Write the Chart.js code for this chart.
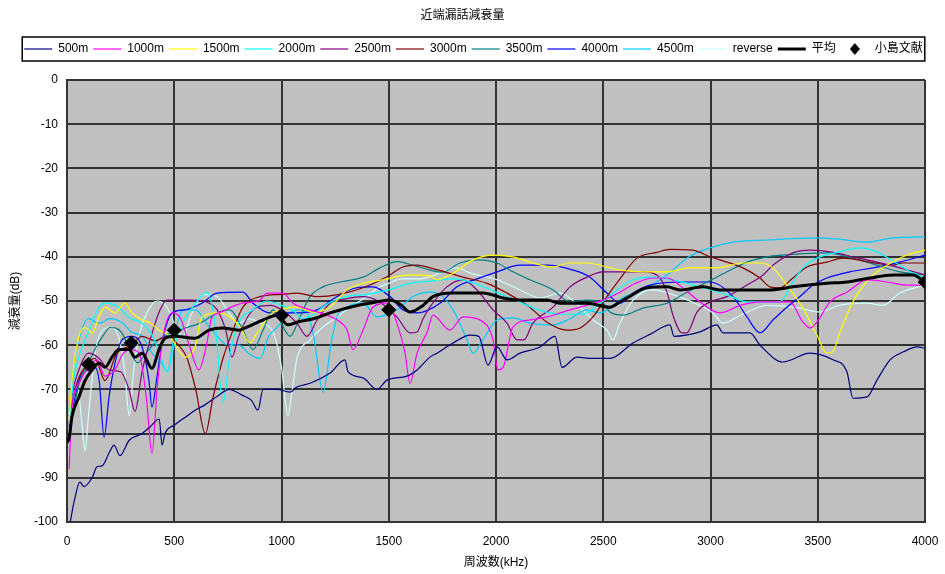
<!DOCTYPE html>
<html>
<head>
<meta charset="utf-8">
<script src="https://cdn.jsdelivr.net/npm/chart.js@4"></script>
<style>
  body { margin: 0; background: #fff; }
  #wrap { width: 945px; height: 574px; }
</style>
</head>
<body>
<div id="wrap"><canvas id="nextChart"></canvas></div>
<script>
// 近端漏話減衰量: [周波数 kHz, 減衰量 dB]
const s500 = [[15,-100],[35,-95],[60,-91],[79,-92],[117,-90],[140,-87.5],[163,-87.3],[200,-84],[219,-82.6],[247,-85],[290,-81.5],[350,-80],[387,-78.5],[430,-76.7],[443,-82.6],[457,-80],[503,-78],[560,-76],[597,-74.7],[643,-73.5],[708,-71.3],[755,-70],[816,-71.3],[860,-72.5],[890,-74.7],[914,-70],[979,-70],[1040,-70.6],[1070,-69.5],[1133,-68.6],[1226,-66.3],[1296,-63.3],[1310,-66],[1380,-67.4],[1445,-70],[1492,-67.9],[1585,-67],[1632,-65.6],[1692,-62.7],[1725,-61.8],[1800,-59.5],[1879,-57.7],[1920,-58],[1963,-64.5],[2005,-60.4],[2051,-63.3],[2112,-61.8],[2205,-60.4],[2275,-58],[2308,-65],[2377,-62.7],[2450,-63],[2531,-63],[2639,-59.5],[2720,-57.5],[2811,-55.4],[2830,-58],[2951,-57],[3030,-55.4],[3058,-57.2],[3184,-57.2],[3231,-60],[3338,-63.8],[3464,-61.8],[3571,-63.3],[3636,-66],[3664,-72],[3730,-71.7],[3776,-67.9],[3837,-63.3],[3900,-61.5],[3963,-60.4],[4000,-60.7]];
const s1000 = [[10,-88],[23,-74.7],[56,-68.6],[100,-65],[140,-63.3],[177,-67],[223,-65.6],[260,-62],[300,-61],[336,-61.8],[370,-72],[396,-84.4],[420,-70],[443,-59.5],[490,-52.7],[530,-54],[570,-60],[615,-65.6],[650,-60],[676,-53.6],[708,-52.7],[760,-51.5],[820,-50.5],[900,-49.8],[932,-48.2],[1007,-48.2],[1054,-50.5],[1100,-51.5],[1200,-53],[1260,-54.3],[1306,-56.6],[1333,-61],[1380,-56.6],[1426,-51.4],[1492,-50.5],[1538,-55],[1576,-61.8],[1599,-68.6],[1632,-61.8],[1678,-57.2],[1706,-53.2],[1785,-56.6],[1846,-53.6],[1925,-54.3],[1986,-58.8],[2009,-65.6],[2033,-65],[2079,-55.9],[2158,-54.3],[2238,-53.6],[2312,-52.5],[2392,-51.4],[2498,-49.8],[2578,-48],[2650,-46],[2732,-44.8],[2797,-44.8],[2870,-47],[2951,-50.2],[3044,-52.7],[3138,-51],[3231,-50.2],[3370,-50.2],[3431,-54.8],[3464,-56.1],[3496,-54.8],[3557,-50.2],[3636,-48],[3730,-45.2],[3823,-45.7],[3916,-46.4],[4000,-46.4]];
const s1500 = [[10,-77],[23,-68],[56,-58],[84,-56],[117,-57.2],[149,-53.6],[177,-51.4],[224,-52.7],[270,-50.5],[303,-52.7],[350,-54.3],[390,-55],[429,-56.6],[480,-58],[550,-62.7],[597,-60.4],[629,-53.6],[708,-52.7],[760,-53.6],[807,-55.9],[853,-59.5],[886,-57.2],[950,-53],[1026,-51.6],[1072,-51.4],[1147,-52.5],[1226,-51.4],[1305,-47.5],[1380,-46],[1473,-45.2],[1599,-44.1],[1692,-44.3],[1725,-45.2],[1800,-43.7],[1893,-40.7],[1986,-39.6],[2079,-40],[2172,-41.4],[2266,-42.3],[2345,-41.4],[2424,-41.4],[2517,-42.3],[2578,-43],[2685,-43.4],[2797,-43.4],[2904,-42.5],[3030,-42.5],[3151,-41.4],[3231,-41.4],[3291,-42.5],[3356,-46.4],[3431,-51.6],[3496,-57.7],[3543,-61.8],[3570,-61.5],[3604,-57],[3664,-50.2],[3743,-44.8],[3823,-41.9],[3916,-39.6],[4000,-38.5]];
const s2000 = [[10,-78],[30,-68],[60,-62],[100,-57],[150,-51.4],[180,-50.5],[240,-51.4],[290,-53.8],[350,-55],[400,-58],[440,-63],[467,-66],[500,-60],[550,-54],[600,-50.5],[652,-48],[690,-55],[727,-73],[760,-62],[800,-55],[867,-52],[930,-50],[1000,-51],[1050,-52],[1100,-54],[1150,-53],[1200,-51],[1300,-49],[1400,-48.5],[1500,-47.5],[1600,-46],[1700,-45.5],[1800,-45],[1900,-46],[2000,-48],[2100,-50],[2200,-52],[2300,-53],[2400,-53],[2500,-50],[2578,-47],[2639,-45.2],[2732,-44.6],[2850,-45.5],[2951,-46.8],[3077,-48.6],[3170,-50.2],[3277,-50.2],[3324,-50.2],[3380,-46],[3431,-42.5],[3496,-40.3],[3590,-39],[3697,-38],[3780,-39],[3851,-41],[3944,-43.7],[4000,-44.8]];
const s2500 = [[10,-78],[23,-71.7],[60,-65],[100,-61.8],[150,-63],[196,-65.6],[250,-66],[289,-70],[317,-75],[350,-66],[401,-56.6],[434,-52],[466,-49.8],[494,-49.8],[587,-49.8],[650,-50.2],[700,-52],[740,-56.6],[769,-62.7],[800,-58],[850,-53],[886,-51.4],[950,-51],[1000,-52],[1072,-55],[1119,-58],[1166,-54.3],[1226,-50.5],[1300,-49.5],[1380,-49],[1450,-50],[1538,-53.6],[1599,-57.2],[1632,-57],[1660,-54],[1692,-51.4],[1771,-46.8],[1846,-45.2],[1911,-47.5],[1986,-52],[2051,-55],[2098,-58.8],[2130,-58.8],[2172,-55],[2266,-51.4],[2345,-46.8],[2424,-44.6],[2498,-43.4],[2578,-43.4],[2685,-43.4],[2750,-44.1],[2797,-48],[2825,-53.2],[2867,-57.2],[2890,-57.2],[2937,-52.5],[2998,-50.2],[3077,-49],[3170,-46.4],[3245,-44.1],[3291,-41.9],[3384,-39.1],[3464,-38.5],[3571,-39],[3664,-40],[3776,-41.2],[3883,-42.5],[4000,-44.1]];
const s3000 = [[10,-76],[50,-68],[100,-64],[130,-63],[177,-68],[230,-62],[300,-60],[350,-58],[410,-59],[470,-58],[520,-60],[560,-63],[600,-70],[645,-80],[680,-72],[727,-63],[774,-56.6],[820,-51.4],[900,-49],[1000,-48.5],[1072,-48.2],[1166,-49],[1270,-48.5],[1380,-47],[1492,-44.5],[1566,-42.3],[1632,-41.9],[1692,-42.5],[1760,-43.4],[1846,-44.6],[1958,-46],[2051,-48.2],[2158,-51.4],[2238,-54.8],[2331,-56.6],[2392,-56.1],[2452,-53.6],[2517,-49],[2578,-45],[2657,-40.3],[2750,-39],[2811,-38.3],[2918,-38.5],[2998,-40],[3077,-41.2],[3151,-42.5],[3231,-44.8],[3277,-46.8],[3324,-47],[3384,-44.8],[3450,-42.3],[3543,-41.2],[3618,-40.3],[3743,-41.2],[3851,-41.9],[3897,-41.4],[4000,-41.4]];
const s3500 = [[10,-80],[30,-75],[60,-68],[100,-64],[140,-60],[170,-57.7],[200,-56],[256,-57.2],[300,-62],[330,-64],[350,-63],[400,-60],[450,-58],[500,-57],[560,-56],[620,-55],[700,-52.7],[760,-52],[820,-56.6],[867,-61],[914,-56.6],[960,-52],[1040,-58],[1086,-53.6],[1133,-49],[1194,-46.8],[1273,-45.7],[1380,-44.6],[1459,-42.5],[1538,-41.1],[1613,-41.9],[1692,-43],[1750,-43.5],[1832,-41.4],[1925,-40.7],[2005,-41.4],[2079,-43.4],[2158,-45.2],[2266,-47.5],[2345,-50.2],[2424,-49.8],[2500,-50.5],[2531,-52.5],[2592,-53.2],[2685,-51.6],[2797,-50.5],[2890,-48],[2984,-45.7],[3077,-43.4],[3170,-41.2],[3264,-40],[3338,-39.6],[3543,-39.1],[3664,-40.3],[3776,-41.9],[3883,-43.4],[4000,-44.1]];
const s4000 = [[10,-78.5],[56,-68],[84,-65.6],[130,-65],[150,-68],[173,-80.8],[196,-71.7],[224,-64],[256,-58.8],[303,-58],[350,-60.4],[382,-68],[396,-74],[420,-67],[443,-59.5],[490,-52.7],[550,-52],[629,-50.5],[700,-48.2],[820,-48],[867,-50.5],[946,-52.7],[1072,-52.7],[1166,-52],[1259,-49],[1352,-47],[1426,-46.8],[1506,-49],[1566,-52],[1632,-52.7],[1739,-50.5],[1818,-46.8],[1911,-45],[2005,-43.4],[2112,-41.9],[2238,-41.9],[2359,-43],[2438,-44.6],[2517,-48.2],[2578,-50.5],[2639,-48.2],[2718,-46.4],[2872,-45.7],[2998,-45.7],[3105,-49],[3170,-53.6],[3231,-57.2],[3291,-54.3],[3356,-51.4],[3417,-49],[3478,-46.4],[3543,-44.8],[3650,-43.4],[3757,-42.5],[3883,-41.2],[4000,-39.6]];
const s4500 = [[10,-75],[30,-65],[60,-58],[100,-54],[150,-55],[200,-54],[260,-55],[300,-57],[350,-58],[400,-62],[440,-64],[467,-66],[500,-58],[540,-52],[600,-52],[650,-55],[700,-58],[750,-60],[800,-60],[850,-62],[900,-63],[940,-58],[980,-56],[1030,-53],[1080,-52],[1119,-52.7],[1150,-58],[1194,-70.6],[1230,-60],[1259,-53.6],[1305,-51.4],[1380,-50.5],[1445,-53.6],[1538,-52],[1613,-49],[1692,-48],[1725,-48.2],[1800,-52],[1865,-58.8],[1893,-61.8],[1939,-58.8],[2005,-54.3],[2079,-53.8],[2158,-55],[2266,-55.4],[2345,-54],[2424,-52],[2485,-52.7],[2545,-51],[2600,-49],[2685,-47.5],[2800,-44],[2900,-40],[3011,-37.8],[3105,-36.7],[3264,-36.2],[3496,-35.7],[3600,-36],[3730,-36.7],[3851,-35.7],[4000,-35.5]];
const sReverse = [[10,-76],[30,-72],[50,-70],[70,-78],[84,-84],[100,-76],[130,-62],[160,-57],[200,-56],[240,-58],[270,-66],[290,-76],[310,-66],[340,-57],[380,-52],[420,-50],[460,-51],[500,-55],[540,-58],[580,-53],[640,-48.5],[700,-49],[760,-53],[800,-55],[850,-54],[900,-55],[960,-57],[1000,-65],[1030,-76],[1050,-70],[1072,-63],[1133,-58.8],[1194,-55.9],[1259,-53.6],[1330,-51],[1400,-49],[1450,-47],[1500,-46],[1560,-45],[1640,-45],[1740,-43.7],[1818,-42.5],[1880,-43.7],[2005,-45.2],[2112,-47.5],[2205,-49.3],[2298,-48.2],[2392,-51.4],[2452,-54.3],[2517,-56.6],[2545,-58.8],[2578,-55],[2639,-49.8],[2732,-47.5],[2850,-49],[2950,-51],[3011,-52.7],[3058,-55],[3150,-53],[3264,-51],[3400,-51.5],[3510,-52.5],[3600,-51],[3730,-50.5],[3804,-51],[3883,-48.2],[4000,-46.4]];
const sAverage = [[0,-82],[10,-81],[23,-76.2],[56,-71.7],[84,-68],[117,-65.6],[149,-64],[177,-65],[210,-62.7],[242,-61],[289,-61],[317,-62.7],[350,-61.8],[396,-65.2],[429,-61],[457,-58.4],[503,-58],[597,-58.4],[662,-56.6],[723,-56.1],[802,-56.6],[839,-55.9],[914,-54.3],[979,-53.2],[1030,-55.4],[1072,-54.8],[1166,-53.8],[1226,-52.7],[1352,-51],[1445,-50.2],[1506,-49.8],[1560,-51],[1599,-52.5],[1660,-51],[1706,-49],[1800,-48.2],[1939,-48.2],[2033,-49.3],[2112,-49.8],[2238,-49.8],[2298,-50.5],[2424,-50.5],[2531,-51.4],[2578,-50.2],[2611,-49.3],[2704,-47],[2797,-46.8],[2858,-47.5],[2965,-46.8],[3044,-47.5],[3170,-47.5],[3277,-47.5],[3384,-46.8],[3543,-46],[3636,-45.7],[3743,-44.8],[3851,-44.1],[3944,-44.1],[4000,-45.7]];
const sKojima = [[100,-64.3],[300,-59.5],[500,-56.6],[1000,-53.2],[1500,-52],[4000,-45.7]];

const lineNames = ['500m', '1000m', '1500m', '2000m', '2500m', '3000m', '3500m', '4000m', '4500m', 'reverse'];
const lineData = [s500, s1000, s1500, s2000, s2500, s3000, s3500, s4000, s4500, sReverse];
const lineColors = ['#000080', '#ff00ff', '#ffff00', '#00ffff', '#800080', '#800000', '#008080', '#0000ff', '#00ccff', '#ccffff'];

const toXY = (arr) => arr.map(([x, y]) => ({x, y}));

const datasets = lineNames.map((name, i) => ({
    label: name,
    data: toXY(lineData[i]),
    borderColor: lineColors[i],
    backgroundColor: lineColors[i],
    borderWidth: 1.2,
    pointRadius: 0,
    pointStyle: 'line',
    cubicInterpolationMode: 'monotone',
    order: 2
}));
datasets.push({
    label: '平均',
    data: toXY(sAverage),
    borderColor: '#000',
    backgroundColor: '#000',
    borderWidth: 3,
    pointRadius: 0,
    pointStyle: 'line',
    cubicInterpolationMode: 'monotone',
    order: 1
});
datasets.push({
    label: '小島文献',
    data: toXY(sKojima),
    showLine: false,
    borderColor: '#000',
    backgroundColor: '#000',
    pointStyle: 'rectRot',
    pointRadius: 7,
    order: 0
});

// small diamond for the legend
const diamond = document.createElement('canvas');
diamond.width = 10; diamond.height = 12;
(function () {
    const c = diamond.getContext('2d');
    c.fillStyle = '#000';
    c.beginPath();
    c.moveTo(5, 0); c.lineTo(10, 6); c.lineTo(5, 12); c.lineTo(0, 6);
    c.closePath(); c.fill();
})();

const plotBg = {
    id: 'plotBg',
    beforeDraw(chart) {
        const a = chart.chartArea, ctx = chart.ctx;
        ctx.save();
        ctx.fillStyle = '#c0c0c0';
        ctx.fillRect(a.left, a.top, a.right - a.left, a.bottom - a.top);
        ctx.restore();
    }
};

// nudge the legend a bit right, like the original, and draw its frame
const legendFrame = {
    id: 'legendFrame',
    afterLayout(chart) {
        if (chart.legend) { chart.legend.left += 11; chart.legend.right += 11; }
    },
    afterDraw(chart) {
        const boxes = chart.legend && chart.legend.legendHitBoxes;
        if (!boxes || !boxes.length) return;
        const l = Math.min(...boxes.map(b => b.left)) - 2;
        const r = Math.max(...boxes.map(b => b.left + b.width)) + 2;
        const cy = boxes[0].top + boxes[0].height / 2;
        const ctx = chart.ctx;
        ctx.save();
        ctx.strokeStyle = '#000';
        ctx.lineWidth = 1.5;
        ctx.strokeRect(l, cy - 12, r - l, 24);
        ctx.restore();
    }
};

Chart.defaults.font.family = "'Liberation Sans', 'Noto Sans CJK JP', sans-serif";
Chart.defaults.color = '#000';

new Chart(document.getElementById('nextChart'), {
    type: 'line',
    data: { datasets },
    options: {
        responsive: true,
        maintainAspectRatio: false,
        animation: false,
        layout: { padding: { left: 0, right: 20, top: 0, bottom: 0 } },
        plugins: {
            title: {
                display: true,
                text: '近端漏話減衰量',
                font: { size: 12, weight: 'normal' },
                padding: { top: 8, bottom: 15.6 }
            },
            subtitle: {
                display: true,
                text: '',
                weight: 500,
                font: { size: 10 },
                padding: { top: 0, bottom: 3 }
            },
            legend: {
                labels: {
                    font: { size: 12 },
                    usePointStyle: true,
                    pointStyleWidth: 28,
                    boxHeight: 6,
                    padding: 5,
                    sort: (a, b) => a.datasetIndex - b.datasetIndex,
                    generateLabels(chart) {
                        const items = Chart.defaults.plugins.legend.labels.generateLabels(chart);
                        items.forEach(it => {
                            const ds = chart.data.datasets[it.datasetIndex];
                            if (ds.showLine === false) {
                                it.pointStyle = diamond;
                                it.lineWidth = 0;
                            } else {
                                it.pointStyle = 'line';
                                it.lineWidth = ds.borderWidth;
                                it.strokeStyle = ds.borderColor;
                            }
                        });
                        return items;
                    }
                }
            },
            tooltip: { enabled: false }
        },
        scales: {
            x: {
                type: 'linear',
                min: 0,
                max: 4000,
                ticks: { stepSize: 500, padding: 4, font: { size: 12 }, callback: (v) => String(v) },
                grid: { color: '#333', lineWidth: 2, drawTicks: true, tickLength: 8, tickColor: 'rgba(0,0,0,0)' },
                border: { color: '#333', width: 2 },
                title: { display: true, text: '周波数(kHz)', font: { size: 12 }, padding: { top: 0, bottom: 4 } },
                afterFit(s) { s.height = 52; }
            },
            y: {
                min: -100,
                max: 0,
                ticks: { stepSize: 10, padding: 9, font: { size: 12 } },
                grid: { color: '#333', lineWidth: 2, drawTicks: false },
                border: { color: '#333', width: 2 },
                title: { display: true, text: '減衰量(dB)', font: { size: 12 }, padding: { top: 8, bottom: 0 } },
                afterFit(s) { s.width = 67; }
            }
        }
    },
    plugins: [plotBg, legendFrame]
});
</script>
</body>
</html>
